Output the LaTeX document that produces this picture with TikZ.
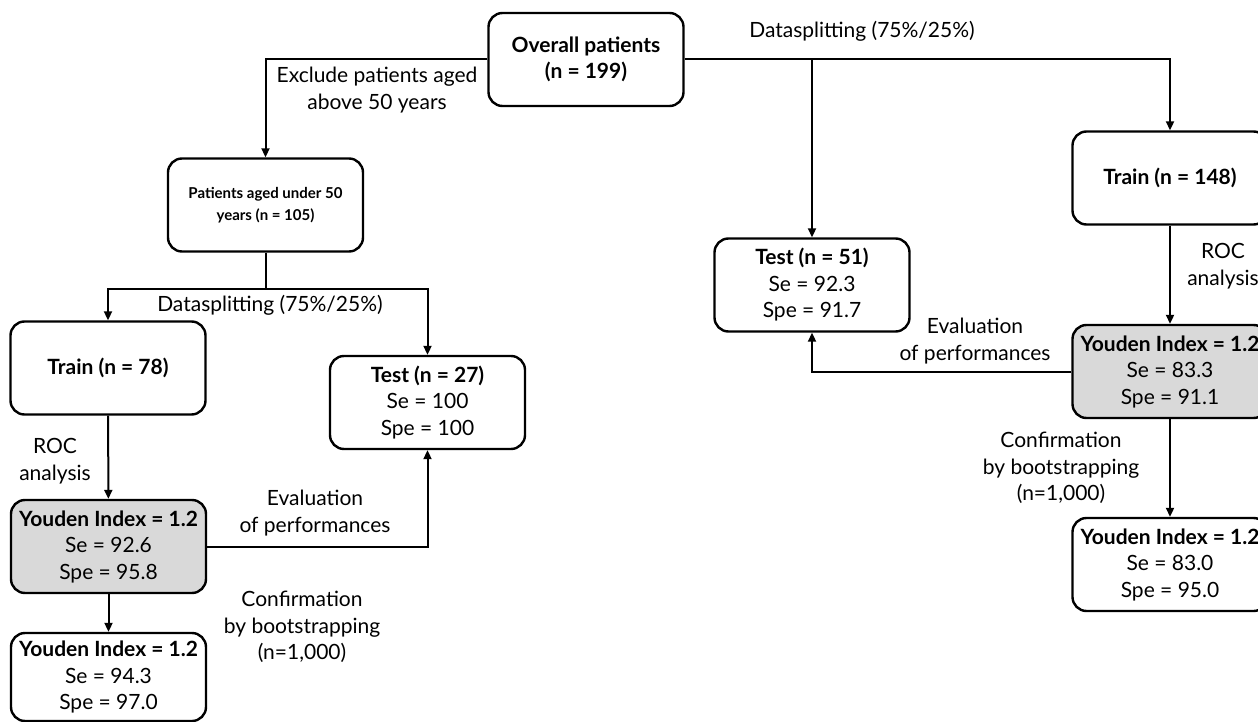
\documentclass[tikz,border=0pt]{standalone}
\usepackage{fontspec}
\setmainfont{Lato}
\usepackage{tikz}
\usetikzlibrary{arrows.meta}
\definecolor{grigio}{HTML}{D9D9D9}

\tikzset{
    box/.style={draw, line width=2.4pt, rounded corners=14pt, align=center,
        minimum width=195pt, minimum height=93pt, inner sep=1pt,
        font=\fontsize{21}{26.5}\selectfont},
    youden/.style={box, fill=grigio},
    arr/.style={line width=2pt, -{Triangle[length=9pt,width=8pt]}},
    lbl/.style={align=center, font=\fontsize{21}{26.5}\selectfont}
}

\begin{document}
\begin{tikzpicture}[x=1pt,y=-1pt]

\useasboundingbox (0,0) rectangle (1258,722);
\clip (0,0) rectangle (1258,722);

% Scatole
\node[box] (overall) at (586,59.5) {\textbf{Overall patients}\\\textbf{(n = 199)}};
\node[box, font=\fontsize{15}{22}\selectfont] (patients) at (265.5,205)
    {\textbf{Patients aged under 50}\\\textbf{years (n = 105)}};

\node[box] (train78) at (108,368) {\textbf{Train (n = 78)}};
\node[box] (test27) at (427.5,402.5) {\textbf{Test (n = 27)}\\Se = 100\\Spe = 100};
\node[youden] (youdenL) at (108.5,546.5) {\textbf{Youden Index = 1.2}\\Se = 92.6\\Spe = 95.8};
\node[box, minimum height=88pt] (bootL) at (108.5,677) {\textbf{Youden Index = 1.2}\\Se = 94.3\\Spe = 97.0};

\node[box] (test51) at (812,285) {\textbf{Test (n = 51)}\\Se = 92.3\\Spe = 91.7};
\node[box] (train148) at (1170,178) {\textbf{Train (n = 148)}};
\node[youden] (youdenR) at (1170,371.5) {\textbf{Youden Index = 1.2}\\Se = 83.3\\Spe = 91.1};
\node[box] (bootR) at (1170,564.5) {\textbf{Youden Index = 1.2}\\Se = 83.0\\Spe = 95.0};

% Frecce dall'alto
\draw[arr] (overall.west) -| (patients.north);
\draw[arr] (overall.east) -| (train148.north);
\draw[arr] (overall.east -| test51.north) -- (test51.north);

% Ramo sinistro
\draw[line width=2pt] (patients.south) -- ++(0,36) coordinate (splitL);
\draw[arr] (splitL) -| (train78.north);
\draw[arr] (splitL) -| (test27.north);
\draw[arr] (train78) -- (youdenL);
\draw[arr] (youdenL) -- (bootL);
\draw[arr] (youdenL.east) -| (test27.south);

% Ramo destro
\draw[arr] (train148) -- (youdenR);
\draw[arr] (youdenR) -- (bootR);
\draw[arr] (youdenR.west) -| (test51.south);

% Etichette
\node[lbl] (exclude) at (377,90) {Exclude patients aged\\above 50 years};
\node[lbl] (splitTop) at (862,31) {Datasplitting (75\%/25\%)};
\node[lbl] (splitLeft) at (270,305) {Datasplitting (75\%/25\%)};
\node[lbl] (rocL) at (55,461) {ROC\\analysis};
\node[lbl] (rocR) at (1223,266) {ROC\\analysis};
\node[lbl] (evalL) at (315,513) {Evaluation\\of performances};
\node[lbl] (evalR) at (975,341) {Evaluation\\of performances};
\node[lbl] (bootlblL) at (302,627) {Confirmation\\by bootstrapping\\(n=1,000)};
\node[lbl] (bootlblR) at (1061,468) {Confirmation\\by bootstrapping\\(n=1,000)};

\end{tikzpicture}
\end{document}
